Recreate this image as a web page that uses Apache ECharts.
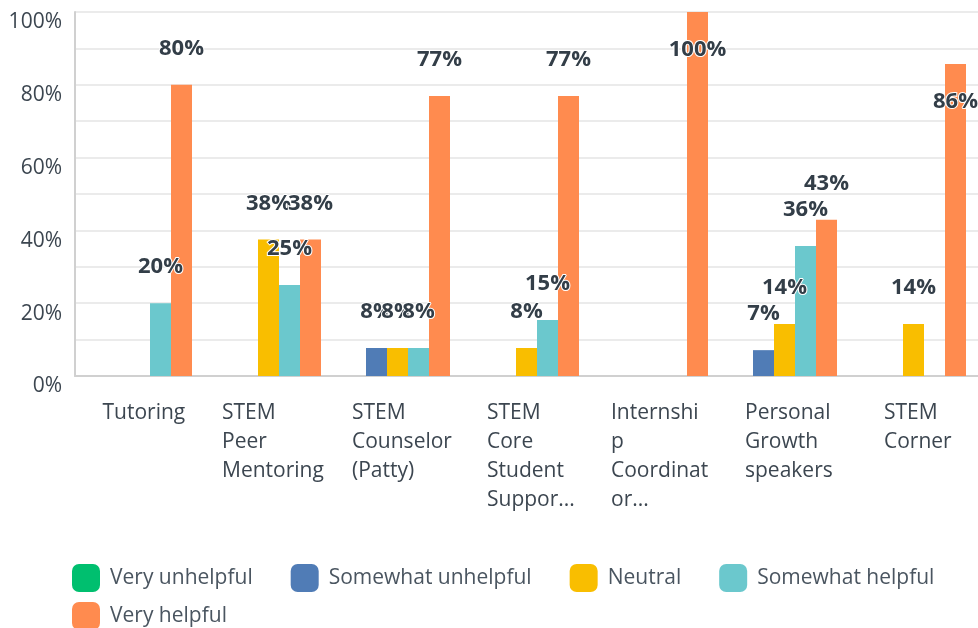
<!DOCTYPE html>
<html>
<head>
<meta charset="utf-8">
<script src="https://cdn.jsdelivr.net/npm/echarts@6/dist/echarts.min.js"></script>
<style>
  html, body { margin: 0; padding: 0; background: #fff; }
  #chart { width: 978px; height: 628px; }
</style>
</head>
<body>
<div id="chart"></div>
<script>
// data (percent of respondents)
const categories = ['Tutoring', 'STEM\nPeer\nMentoring', 'STEM\nCounselor\n(Patty)', 'STEM\nCore\nStudent\nSuppor...', 'Internshi\np\nCoordinat\nor...', 'Personal\nGrowth\nspeakers', 'STEM\nCorner']
const seriesNames = ['Very unhelpful', 'Somewhat unhelpful', 'Neutral', 'Somewhat helpful', 'Very helpful']
const veryUnhelpful = [0, 0, 0, 0, 0, 0, 0]
const somewhatUnhelpful = [0, 0, 7.7, 0, 0, 7.1, 0]
const neutral = [0, 37.5, 7.7, 7.7, 0, 14.3, 14.3]
const somewhatHelpful = [20, 25, 7.7, 15.4, 0, 35.7, 0]
const veryHelpful = [80, 37.5, 76.9, 76.9, 100, 42.9, 85.7]
const yTicks = [0, 20, 40, 60, 80, 100]

const colors = ['#00BF6F', '#507CB6', '#F9BE00', '#6BC8CD', '#FF8B4F']
const textColor = '#3c4650'
const font = '"Open Sans", "Noto Sans", sans-serif'

const chart = echarts.init(document.getElementById('chart'))

// category labels: lines left aligned inside a block centred on the tick
const ctx = document.createElement('canvas').getContext('2d')
ctx.font = '21px "Open Sans"'
const rich = {}
categories.forEach((c, i) => {
  const w = Math.max(...c.split('\n').map(l => ctx.measureText(l).width))
  rich['l' + i] = { width: Math.ceil(w) + 1, align: 'left', fontSize: 21, lineHeight: 29, color: textColor, fontFamily: font }
})

const allData = [veryUnhelpful, somewhatUnhelpful, neutral, somewhatHelpful, veryHelpful]

const series = seriesNames.map((name, i) => ({
  name: name,
  type: 'bar',
  barWidth: 21,
  barGap: '0%',
  itemStyle: { color: colors[i] },
  label: {
    show: true,
    position: 'top',
    distance: 25,
    formatter: p => p.value > 0 ? Math.round(p.value) + '%' : '',
    fontSize: 22,
    fontWeight: 'bold',
    fontFamily: font,
    color: '#333e48',
    textBorderColor: '#fff',
    textBorderWidth: 2
  },
  // tall bars keep their label inside, under the top edge
  data: allData[i].map(v => v >= 85 ? { value: v, label: { position: 'insideTop', distance: 27 } } : v)
}))

const legendBase = {
  left: 67,
  icon: 'roundRect',
  itemWidth: 28,
  itemHeight: 28,
  itemGap: 38,
  textStyle: { fontSize: 21, color: '#4a5560', fontFamily: font, padding: [0, 0, 0, 5] }
}

const option = {
  animation: false,
  color: colors,
  grid: { left: 75, right: 0, top: 12, bottom: 252 },
  legend: [
    Object.assign({ data: seriesNames.slice(0, 4), top: 559 }, legendBase),
    Object.assign({ data: seriesNames.slice(4), top: 597 }, legendBase)
  ],
  xAxis: {
    type: 'category',
    data: categories,
    axisLine: { lineStyle: { color: '#d0d0d0', width: 2 } },
    axisTick: { show: false },
    axisLabel: {
      interval: 0,
      margin: 23,
      padding: [0, 0, 0, 10],
      formatter: (value, idx) => value.split('\n').map(l => '{l' + idx + '|' + l + '}').join('\n'),
      rich: rich
    }
  },
  yAxis: {
    type: 'value',
    min: 0,
    max: 100,
    interval: 10,
    axisLine: { show: true, lineStyle: { color: '#d0d0d0', width: 2 } },
    axisTick: { show: false },
    splitLine: { lineStyle: { color: '#ebebeb', width: 2 } },
    axisLabel: {
      margin: 13,
      verticalAlign: 'top',
      fontSize: 21,
      fontFamily: font,
      color: textColor,
      formatter: v => yTicks.includes(v) ? v + '%' : ''
    }
  },
  series: series
}

chart.setOption(option)
</script>
</body>
</html>
